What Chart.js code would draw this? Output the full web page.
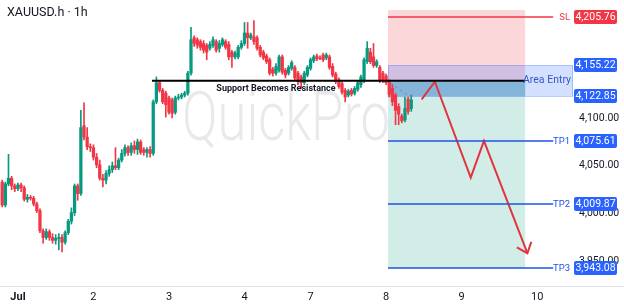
<!DOCTYPE html>
<html>
<head>
<meta charset="utf-8">
<script src="https://cdn.jsdelivr.net/npm/chart.js@4.4.1/dist/chart.umd.min.js"></script>
<style>
html, body { margin: 0; padding: 0; background: #fff; }
canvas { display: block; }
</style>
</head>
<body>
<canvas id="chart" width="624" height="305"></canvas>
<script>
// hourly bars, index 0 = first bar of Jul 1
var firstBar = -5;
var opens = [
  4033,4009,4031,4037,4029,4026,4030,4027,4015,4017,
  4016,4010,4003,3982,3975,3981,3975,3972,3974,3975,
  3970,3980,3992,4001,4029,4021,4092,4080,4070,4069,
  4059,4051,4037,4035,4042,4046,4050,4048,4056,4063,
  4069,4064,4071,4067,4075,4067,4064,4067,4063,4117,
  4137,4129,4126,4121,4119,4106,4121,4122,4124,4126,
  4147,4184,4182,4180,4178,4176,4173,4176,4180,4173,
  4177,4180,4177,4169,4164,4164,4174,4178,4189,4184,
  4185,4184,4174,4169,4165,4161,4151,4147,4150,4164,
  4150,4147,4152,4153,4147,4143,4137,4145,4152,4160,
  4165,4163,4166,4163,4164,4154,4146,4140,4136,4129,
  4124,4129,4126,4130,4135,4140,4159,4169,4164,4155,
  4153,4147,4144,4138,4131,4124,4112,4102,4098,4120,
  4110
];
var highs = [
  4035,4033,4062,4039,4031,4032,4032,4029,4020,4019,
  4018,4012,4005,3984,3984,3983,3979,3978,3979,3978,
  3982,3994,4006,4031,4031,4108,4116,4090,4073,4072,
  4063,4056,4041,4045,4050,4054,4069,4058,4067,4072,
  4071,4074,4076,4078,4077,4069,4069,4070,4119,4143,
  4139,4131,4128,4123,4121,4123,4125,4126,4128,4149,
  4195,4186,4184,4182,4181,4178,4180,4185,4182,4181,
  4184,4182,4180,4171,4170,4176,4181,4200,4200,4189,
  4202,4186,4176,4171,4167,4163,4153,4157,4166,4166,
  4152,4155,4160,4155,4149,4145,4149,4155,4163,4166,
  4167,4165,4168,4168,4166,4157,4148,4142,4138,4131,
  4130,4131,4133,4139,4145,4163,4180,4173,4178,4161,
  4155,4149,4146,4140,4135,4126,4115,4104,4122,4122,
  4124
];
var lows = [
  4007,4007,4029,4025,4023,4024,4023,4013,4012,4014,
  4008,4001,3980,3969,3973,3972,3969,3968,3962,3960,
  3968,3978,3989,3998,4014,4019,4077,4067,4065,4056,
  4048,4035,4028,4031,4039,4043,4046,4046,4054,4060,
  4061,4061,4063,4062,4062,4061,4059,4059,4061,4115,
  4127,4115,4101,4104,4100,4104,4119,4120,4122,4124,
  4145,4175,4173,4171,4168,4161,4171,4174,4169,4169,
  4175,4172,4161,4153,4162,4162,4172,4176,4173,4182,
  4177,4171,4164,4161,4157,4145,4144,4145,4148,4146,
  4142,4145,4150,4140,4135,4131,4135,4143,4150,4158,
  4160,4161,4159,4161,4151,4143,4136,4131,4125,4117,
  4122,4123,4124,4128,4132,4137,4157,4157,4153,4153,
  4137,4137,4135,4122,4113,4093,4093,4095,4096,4104,
  4107
];
var closes = [
  4009,4031,4037,4029,4026,4030,4027,4015,4017,4016,
  4010,4003,3982,3975,3981,3975,3972,3974,3975,3970,
  3980,3992,4001,4029,4021,4090,4080,4070,4069,4059,
  4051,4037,4035,4042,4046,4050,4048,4056,4063,4069,
  4064,4071,4067,4075,4064,4064,4067,4063,4117,4137,
  4129,4117,4114,4106,4105,4121,4122,4124,4126,4147,
  4182,4178,4176,4174,4171,4169,4177,4182,4171,4178,
  4182,4174,4164,4164,4168,4174,4178,4189,4184,4187,
  4180,4173,4166,4163,4159,4147,4147,4154,4164,4148,
  4145,4153,4158,4142,4138,4137,4147,4153,4161,4164,
  4162,4162,4161,4166,4153,4145,4138,4133,4127,4122,
  4128,4125,4131,4137,4143,4161,4173,4159,4155,4159,
  4139,4140,4137,4125,4117,4108,4104,4097,4110,4107,
  4119
];

var dayTicks = [0, 24, 48, 72, 93, 117, 141, 165];
var dayLabels = ['Jul', '2', '3', '4', '7', '8', '9', '10'];
// 4,150 and 4,200 sit under the level labels and are not shown
var priceTicks = [3950, 4000, 4050, 4100];

// trade setup
var slPrice = 4205.76;
var entryTop = 4155.22;
var entryBottom = 4122.85;
var srLevel = 4139;
var riskTop = 4213;
var tpNames = ['TP1', 'TP2', 'TP3'];
var tpPrices = [4075.61, 4009.87, 3943.08];
var toolStart = 117.6, toolEnd = 161.2, levelEnd = 170.1;
var srStart = 42.6;

// projected path
var arrowX = [128.3, 132.5, 143.9, 148.1, 161.9];
var arrowY = [4119.6, 4138, 4037.6, 4076, 3958.5];
var guideX = [118.2, 125.2];
var guideY = [4136.7, 4121];

var upColor = '#089981';
var downColor = '#f23645';
var blue = '#2962ff';

var bars = opens.map(function(o, k) { return firstBar + k; });
var candleColors = bars.map(function(b, k) { return closes[k] >= opens[k] ? upColor : downColor; });

function fmt(v) {
    return v.toLocaleString('en-US', {minimumFractionDigits: 2, maximumFractionDigits: 2});
}

var overlay = {
    id: 'overlay',
    beforeDatasetsDraw: function(chart) {
        var ctx = chart.ctx, xs = chart.scales.x, ys = chart.scales.y, area = chart.chartArea;
        var x0 = xs.getPixelForValue(toolStart), x1 = xs.getPixelForValue(toolEnd);
        var yRisk = ys.getPixelForValue(riskTop), yEntry = ys.getPixelForValue(srLevel);
        var yTp3 = ys.getPixelForValue(tpPrices[2]);
        ctx.save();
        // risk / reward zones
        ctx.fillStyle = 'rgba(242,54,69,0.2)';
        ctx.fillRect(x0, yRisk, x1 - x0, yEntry - yRisk);
        ctx.fillStyle = 'rgba(8,153,129,0.18)';
        ctx.fillRect(x0, yEntry, x1 - x0, yTp3 - yEntry);
        // entry area
        var yt = ys.getPixelForValue(entryTop), yb = ys.getPixelForValue(entryBottom);
        ctx.fillStyle = 'rgba(41,98,255,0.2)';
        ctx.fillRect(x0, yt, area.right - x0, yb - yt);
        ctx.fillStyle = 'rgba(30,110,170,0.3)';
        ctx.fillRect(x0, yEntry, x1 - x0, yb - yEntry);
        ctx.strokeStyle = 'rgba(41,98,255,0.3)';
        ctx.lineWidth = 1;
        ctx.strokeRect(x0 + 0.5, Math.round(yt) + 0.5, area.right - x0 - 1, Math.round(yb - yt));
        // watermark
        ctx.font = '300 68px Roboto';
        var w = ctx.measureText('QuickPro').width;
        ctx.translate(182, 140);
        ctx.scale(208 / w, 1);
        ctx.fillStyle = 'rgba(120,123,134,0.17)';
        ctx.textBaseline = 'alphabetic';
        ctx.fillText('QuickPro', 0, 0);
        ctx.restore();
    },
    afterDatasetsDraw: function(chart) {
        var ctx = chart.ctx, xs = chart.scales.x, ys = chart.scales.y, area = chart.chartArea;
        var x0 = xs.getPixelForValue(toolStart), xl = xs.getPixelForValue(levelEnd);
        ctx.save();
        // support becomes resistance
        var ySr = ys.getPixelForValue(srLevel);
        ctx.strokeStyle = '#000';
        ctx.lineWidth = 2;
        ctx.beginPath();
        ctx.moveTo(xs.getPixelForValue(srStart), ySr);
        ctx.lineTo(xs.getPixelForValue(toolEnd), ySr);
        ctx.stroke();
        ctx.fillStyle = '#131722';
        ctx.font = 'bold 9px Roboto';
        ctx.textAlign = 'center';
        ctx.textBaseline = 'middle';
        ctx.fillText('Support Becomes Resistance', xs.getPixelForValue(82), ySr + 7.5);

        // SL / TP levels
        ctx.lineWidth = 1.5;
        var lv = [['SL', slPrice, downColor]];
        tpNames.forEach(function(n, k) { lv.push([n, tpPrices[k], '#1e53e5']); });
        lv.forEach(function(l) {
            var y = Math.round(ys.getPixelForValue(l[1]));
            ctx.strokeStyle = l[2];
            ctx.beginPath();
            ctx.moveTo(x0, y);
            ctx.lineTo(xl, y);
            ctx.stroke();
            ctx.fillStyle = l[2];
            ctx.font = '9.5px Roboto';
            ctx.textAlign = 'right';
            ctx.fillText(l[0], area.right - 3, y + 0.5);
        });
        ctx.fillStyle = '#3558c8';
        ctx.font = '10.5px Roboto';
        ctx.textAlign = 'right';
        ctx.fillText('Area Entry', area.right - 2, ySr);

        // arrow head
        var n = arrowX.length;
        var tx = xs.getPixelForValue(arrowX[n - 1]), ty = ys.getPixelForValue(arrowY[n - 1]);
        var px = xs.getPixelForValue(arrowX[n - 2]), py = ys.getPixelForValue(arrowY[n - 2]);
        var ang = Math.atan2(ty - py, tx - px);
        ctx.strokeStyle = '#e0353f';
        ctx.lineWidth = 2;
        ctx.beginPath();
        ctx.moveTo(tx + 12 * Math.cos(ang + Math.PI - 0.7), ty + 12 * Math.sin(ang + Math.PI - 0.7));
        ctx.lineTo(tx, ty);
        ctx.lineTo(tx + 12 * Math.cos(ang + Math.PI + 0.7), ty + 12 * Math.sin(ang + Math.PI + 0.7));
        ctx.stroke();
        ctx.restore();
    },
    afterDraw: function(chart) {
        var ctx = chart.ctx, ys = chart.scales.y, area = chart.chartArea;
        ctx.save();
        // bottom border
        ctx.strokeStyle = '#e0e3eb';
        ctx.lineWidth = 1;
        ctx.beginPath();
        ctx.moveTo(0, area.bottom + 0.5);
        ctx.lineTo(chart.width, area.bottom + 0.5);
        ctx.stroke();
        // price labels
        var boxes = [[slPrice, downColor], [entryTop, blue], [entryBottom, blue]];
        tpPrices.forEach(function(p) { boxes.push([p, blue]); });
        boxes.forEach(function(b) {
            var y = Math.round(ys.getPixelForValue(b[0]));
            ctx.fillStyle = b[1];
            ctx.beginPath();
            ctx.roundRect(area.right + 1, y - 7, 43, 14, 2);
            ctx.fill();
            ctx.fillStyle = '#fff';
            ctx.font = '10.5px Roboto';
            ctx.textAlign = 'center';
            ctx.textBaseline = 'middle';
            ctx.fillText(fmt(b[0]), area.right + 22.5, y + 0.5);
        });
        // title
        ctx.fillStyle = '#131722';
        ctx.font = '12.5px Roboto';
        ctx.textAlign = 'left';
        ctx.textBaseline = 'middle';
        ctx.fillText('XAUUSD.h \u00b7 1h', 7, 13);
        ctx.restore();
    }
};

var chart = new Chart(document.getElementById('chart').getContext('2d'), {
    type: 'bar',
    data: {
        datasets: [
            {
                type: 'line',
                data: arrowX.map(function(x, k) { return {x: x, y: arrowY[k]}; }),
                borderColor: '#e0353f',
                borderWidth: 2,
                pointRadius: 0,
                tension: 0,
                order: 1
            },
            {
                type: 'line',
                data: guideX.map(function(x, k) { return {x: x, y: guideY[k]}; }),
                borderColor: 'rgba(120,123,134,0.7)',
                borderWidth: 1,
                borderDash: [3, 3],
                pointRadius: 0,
                order: 1
            },
            {
                data: bars.map(function(x, k) { return {x: x, y: [opens[k], closes[k]]}; }),
                backgroundColor: candleColors,
                barThickness: 2.6,
                grouped: false,
                order: 2
            },
            {
                data: bars.map(function(x, k) { return {x: x, y: [lows[k], highs[k]]}; }),
                backgroundColor: candleColors,
                barThickness: 1,
                grouped: false,
                order: 3
            }
        ]
    },
    options: {
        responsive: false,
        animation: false,
        layout: { padding: 0 },
        plugins: {
            legend: { display: false },
            tooltip: { enabled: false }
        },
        scales: {
            x: {
                type: 'linear',
                min: -5.7,
                max: 176.4,
                offset: false,
                grid: { display: false, drawTicks: false },
                border: { display: false },
                afterBuildTicks: function(axis) {
                    axis.ticks = dayTicks.map(function(v) { return {value: v}; });
                },
                afterFit: function(axis) {
                    axis.height = 19;
                    axis.paddingLeft = 0;
                    axis.paddingRight = 0;
                },
                ticks: {
                    autoSkip: false,
                    maxRotation: 0,
                    padding: 5,
                    color: '#131722',
                    font: function(c) {
                        return { family: 'Roboto', size: 11, weight: (c.tick && c.tick.value === 0) ? 'bold' : 'normal' };
                    },
                    callback: function(v) { return dayLabels[dayTicks.indexOf(v)]; }
                }
            },
            y: {
                position: 'right',
                min: 3924.2,
                max: 4223.55,
                grid: { display: false, drawTicks: false },
                border: { display: false },
                afterBuildTicks: function(axis) {
                    axis.ticks = priceTicks.map(function(v) { return {value: v}; });
                },
                afterFit: function(axis) {
                    axis.width = 51;
                    axis.paddingTop = 0;
                    axis.paddingBottom = 0;
                },
                ticks: {
                    padding: 6,
                    color: '#131722',
                    font: { family: 'Roboto', size: 10.5 },
                    callback: function(v) { return fmt(v); }
                }
            }
        }
    },
    plugins: [overlay]
});
</script>
</body>
</html>
